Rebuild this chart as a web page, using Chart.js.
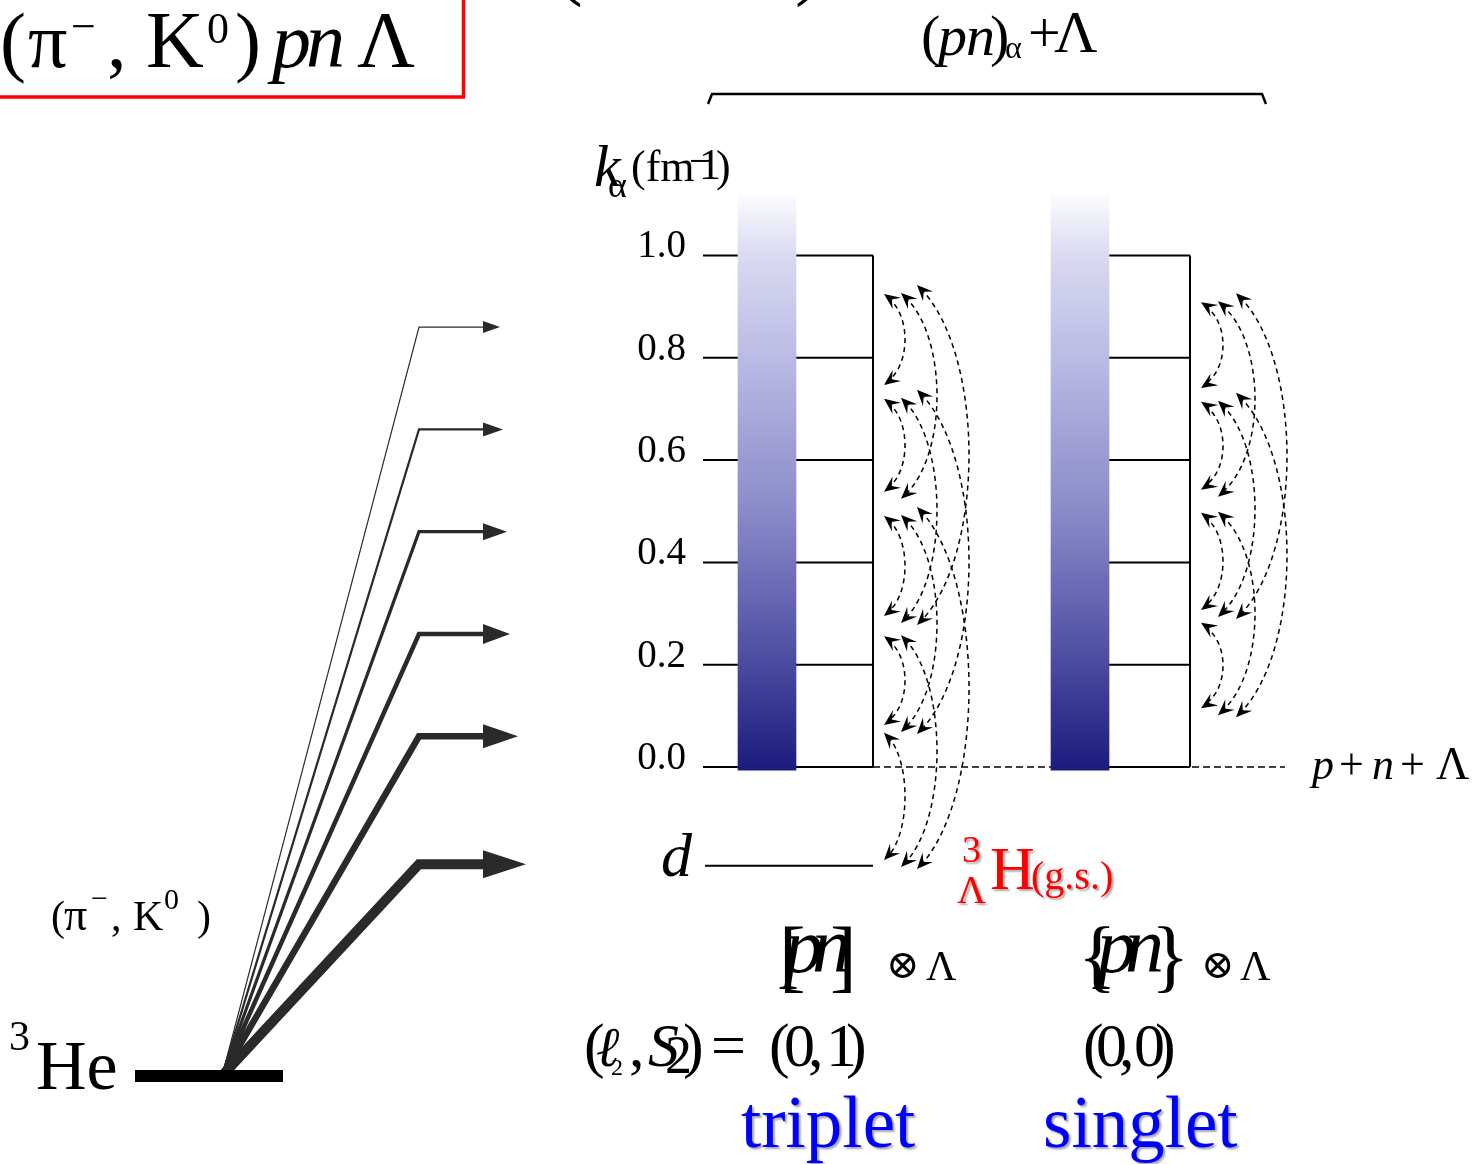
<!DOCTYPE html>
<html>
<head>
<meta charset="utf-8">
<script src="https://cdn.jsdelivr.net/npm/chart.js@4.4.1/dist/chart.umd.min.js"></script>
<style>
  html, body { margin: 0; padding: 0; background: #ffffff; }
  canvas { display: block; }
</style>
</head>
<body>
<canvas id="diagram" width="1476" height="1164"></canvas>
<script>
// ---- momentum axis k_alpha (fm^-1) ----
const kTicks = [0.0, 0.2, 0.4, 0.6, 0.8, 1.0];
const kTickLabels = ['0.0', '0.2', '0.4', '0.6', '0.8', '1.0'];

// bound levels on the same vertical scale
const deuteronK = -0.193;
const helium3K = -0.604;

// continuum bars (triplet, singlet): k range of the shaded column
const barRangeK = [-0.006, 1.128];

// (pi-, K0) excitation arrows: final k of each arrow (last one ends on the deuteron)
const excitationK = [0.86, 0.66, 0.46, 0.26, 0.06, -0.19];

// coupling arrows between discretized states: upper and lower anchor k of each state
const tripletTopK = [0.917, 0.712, 0.483, 0.248, 0.059];
const tripletBottomK = [null, 0.747, 0.538, 0.295, 0.082, -0.182];
const singletTopK = [0.901, 0.706, 0.489, 0.274];
const singletBottomK = [null, 0.741, 0.542, 0.307, 0.115];
const maxCouplingSpan = 3;

// ---- layout (horizontal diagram units) ----
const X = {
  axis: 703, tripletBar: 767, tripletRight: 873,
  singletLeft: 1051, singletBar: 1080, singletRight: 1190,
  thresholdEnd: 1285, dLeft: 705,
  heLeft: 135, heRight: 283, fan: 222, knee: 419, headBase: 483
};
const SERIF = "'Liberation Serif', 'DejaVu Serif', 'Times New Roman', serif";
const INK = '#000000';
const ARROW_INK = '#2a2a2a';
const lineWidths = [1.2, 2.2, 3.2, 4.5, 6.5, 10];
const headLen = [17, 20, 24, 27, 35, 43];
const headHalf = [6, 7, 8.5, 10, 12, 14];

function segment(x0, y0, x1, y1, width, extra) {
  return Object.assign({
    type: 'line',
    data: [{ x: x0, y: y0 }, { x: x1, y: y1 }],
    borderColor: INK,
    borderWidth: width,
    borderCapStyle: 'butt',
    pointRadius: 0,
    order: 3
  }, extra || {});
}

const datasets = [];

// shaded continuum columns
datasets.push({
  type: 'bar',
  data: [
    { x: X.tripletBar, y: barRangeK },
    { x: X.singletBar, y: barRangeK }
  ],
  barThickness: 58,
  grouped: false,
  borderWidth: 0,
  order: 1,
  backgroundColor: (ctx) => {
    const chart = ctx.chart;
    if (!chart.chartArea) return '#8a8ac8';
    const y = chart.scales.y;
    const g = chart.ctx.createLinearGradient(0, y.getPixelForValue(barRangeK[1]), 0, y.getPixelForValue(barRangeK[0]));
    g.addColorStop(0.00, '#ffffff');
    g.addColorStop(0.11, '#dadaf2');
    g.addColorStop(0.33, '#b3b3e1');
    g.addColorStop(0.55, '#8b8bc9');
    g.addColorStop(0.77, '#5656a9');
    g.addColorStop(1.00, '#1b1b7d');
    return g;
  }
});

// level lines of both boxes
kTicks.forEach((k) => {
  datasets.push(segment(X.axis, k, X.tripletRight, k, 2));
  datasets.push(segment(X.singletLeft, k, X.singletRight, k, 2));
});
datasets.push(segment(X.tripletRight, kTicks[0], X.tripletRight, kTicks[kTicks.length - 1], 2));
datasets.push(segment(X.singletRight, kTicks[0], X.singletRight, kTicks[kTicks.length - 1], 2));

// p+n+Lambda threshold
datasets.push(segment(X.tripletRight, kTicks[0], X.thresholdEnd, kTicks[0], 1.4, { borderDash: [7, 4], order: 4 }));

// deuteron level
datasets.push(segment(X.dLeft, deuteronK, X.tripletRight, deuteronK, 2));

// 3He ground state
datasets.push(segment(X.heLeft, helium3K, X.heRight, helium3K, 12, { order: 2 }));

// excitation arrows from 3He
excitationK.forEach((k, i) => {
  datasets.push({
    type: 'line',
    data: [{ x: X.fan, y: helium3K }, { x: X.knee, y: k }, { x: X.headBase + 1, y: k }],
    borderColor: ARROW_INK,
    borderWidth: lineWidths[i],
    borderJoinStyle: 'miter',
    borderCapStyle: 'butt',
    pointRadius: 0,
    order: 2
  });
});

function txt(ctx, s, x, y, size, opts) {
  opts = opts || {};
  ctx.font = (opts.italic ? 'italic ' : '') + size + 'px ' + SERIF;
  ctx.fillStyle = opts.color || INK;
  ctx.textAlign = opts.align || 'left';
  ctx.textBaseline = 'alphabetic';
  ctx.fillText(s, x, y);
  return x + ctx.measureText(s).width;
}

function stealthHead(ctx, tipX, tipY, dx, dy, len, half) {
  const m = Math.hypot(dx, dy);
  const ux = dx / m, uy = dy / m;
  const nx = -uy, ny = ux;
  ctx.beginPath();
  ctx.moveTo(tipX, tipY);
  ctx.lineTo(tipX - len * ux + half * nx, tipY - len * uy + half * ny);
  ctx.lineTo(tipX - 0.6 * len * ux, tipY - 0.6 * len * uy);
  ctx.lineTo(tipX - len * ux - half * nx, tipY - len * uy - half * ny);
  ctx.closePath();
  ctx.fill();
}

// dashed two-headed coupling arcs between states i (upper anchor) and j (lower anchor)
function drawCouplings(ctx, xs, ys, topK, bottomK, rightX, endOff, bulge) {
  const topShift = [0, -1, -9];
  const botShift = [-4, 3, 5];
  for (let i = 0; i < topK.length; i++) {
    for (let s = 1; s <= maxCouplingSpan; s++) {
      const j = i + s;
      if (j >= bottomK.length || bottomK[j] === null) continue;
      const x = xs.getPixelForValue(rightX) + endOff[s - 1];
      const y0 = ys.getPixelForValue(topK[i]) + topShift[s - 1];
      const y1 = ys.getPixelForValue(bottomK[j]) + botShift[s - 1];
      const h = y1 - y0;
      const cx = x + bulge[s - 1] / 0.75;
      const c0y = y0 + 0.2 * h, c1y = y1 - 0.2 * h;
      ctx.save();
      ctx.strokeStyle = INK;
      ctx.lineWidth = 1.5;
      ctx.setLineDash([5, 4]);
      ctx.beginPath();
      ctx.moveTo(x, y0);
      ctx.bezierCurveTo(cx, c0y, cx, c1y, x, y1);
      ctx.stroke();
      ctx.setLineDash([]);
      ctx.fillStyle = INK;
      stealthHead(ctx, x - 4, y0 - 4, x - cx, y0 - c0y, 16, 7);
      stealthHead(ctx, x - 4, y1 + 4, x - cx, y1 - c1y, 16, 7);
      ctx.restore();
    }
  }
}

const diagramPlugin = {
  id: 'diagramAnnotations',
  afterDatasetsDraw(chart) {
    const ctx = chart.ctx;
    const xs = chart.scales.x, ys = chart.scales.y;
    ctx.save();

    // excitation arrowheads
    ctx.fillStyle = ARROW_INK;
    excitationK.forEach((k, i) => {
      const y = ys.getPixelForValue(k);
      const bx = xs.getPixelForValue(X.headBase);
      ctx.beginPath();
      ctx.moveTo(bx, y - headHalf[i]);
      ctx.lineTo(bx + headLen[i], y);
      ctx.lineTo(bx, y + headHalf[i]);
      ctx.closePath();
      ctx.fill();
    });

    // coupling arcs
    drawCouplings(ctx, xs, ys, tripletTopK, tripletBottomK, X.tripletRight, [15, 32, 48], [17, 32, 48]);
    drawCouplings(ctx, xs, ys, singletTopK, singletBottomK, X.singletRight, [15, 32, 50], [18, 33, 47]);

    // axis tick labels
    kTicks.forEach((k, i) => {
      txt(ctx, kTickLabels[i], 686, ys.getPixelForValue(k) + 2, 39, { align: 'right' });
    });

    // axis title k_alpha (fm^-1)
    txt(ctx, 'k', 594, 186, 60, { italic: true });
    txt(ctx, 'α', 608, 197, 36);
    txt(ctx, '(fm', 631, 181, 44);
    txt(ctx, '−', 689, 174, 40);
    txt(ctx, '1', 699, 179, 44);
    txt(ctx, ')', 716, 181, 44);

    // brace over the continuum
    ctx.strokeStyle = INK;
    ctx.lineWidth = 2.5;
    ctx.beginPath();
    ctx.moveTo(708, 104);
    ctx.lineTo(712, 94);
    ctx.lineTo(1262, 94);
    ctx.lineTo(1266, 104);
    ctx.stroke();

    // (pn)_alpha + Lambda
    txt(ctx, '(', 921, 55, 58);
    txt(ctx, 'p', 938, 55, 58, { italic: true });
    txt(ctx, 'n', 966, 55, 58, { italic: true });
    txt(ctx, ')', 990, 55, 58);
    txt(ctx, 'α', 1005, 58, 32);
    txt(ctx, '+', 1028, 52, 58);
    txt(ctx, 'Λ', 1054, 52, 60);

    // partly visible brackets at the top edge
    txt(ctx, '(', 556, -10, 80);
    txt(ctx, ')', 795, -10, 80);

    // reaction title in red frame
    ctx.strokeStyle = '#ff0000';
    ctx.lineWidth = 3.5;
    ctx.strokeRect(-10, -10, 473.5, 107);
    txt(ctx, '(', 0, 67, 78);
    txt(ctx, 'π', 28, 67, 78);
    txt(ctx, '−', 71, 41, 44);
    txt(ctx, ',', 107, 67, 78);
    txt(ctx, 'K', 146, 67, 80);
    txt(ctx, '0', 207, 43, 44);
    txt(ctx, ')', 235, 67, 78);
    txt(ctx, 'p', 272, 67, 78, { italic: true });
    txt(ctx, 'n', 306, 67, 78, { italic: true });
    txt(ctx, 'Λ', 357, 67, 80);

    // 3He and reaction label
    txt(ctx, '3', 9, 1050, 42);
    txt(ctx, 'He', 36, 1089, 70);
    txt(ctx, '(', 51, 930, 42);
    txt(ctx, 'π', 64, 930, 46);
    txt(ctx, '−', 91, 908, 30);
    txt(ctx, ',', 111, 930, 42);
    txt(ctx, 'K', 133, 930, 42);
    txt(ctx, '0', 164, 909, 30);
    txt(ctx, ')', 197, 930, 42);

    // deuteron and threshold labels
    txt(ctx, 'd', 661, 876, 62, { italic: true });
    txt(ctx, 'p', 1312, 779, 44, { italic: true });
    txt(ctx, '+', 1339, 779, 44);
    txt(ctx, 'n', 1372, 779, 44, { italic: true });
    txt(ctx, '+', 1400, 779, 44);
    txt(ctx, 'Λ', 1436, 779, 46);

    // hypertriton ground state
    ctx.save();
    ctx.shadowColor = 'rgba(0,0,0,0.35)';
    ctx.shadowOffsetX = 2;
    ctx.shadowOffsetY = 2;
    ctx.shadowBlur = 2;
    txt(ctx, '3', 962, 862, 38, { color: '#ff0000' });
    txt(ctx, 'Λ', 957, 903, 40, { color: '#ff0000' });
    txt(ctx, 'H', 990, 889, 62, { color: '#ff0000' });
    txt(ctx, '(g.s.)', 1031, 889, 40, { color: '#ff0000' });
    ctx.restore();

    // pn configurations
    txt(ctx, '[', 779, 982, 80);
    txt(ctx, 'p', 784, 972, 78, { italic: true });
    txt(ctx, 'n', 812, 972, 78, { italic: true });
    txt(ctx, ']', 830, 982, 80);
    txt(ctx, '⊗', 886, 978, 40);
    txt(ctx, 'Λ', 926, 980, 42);

    txt(ctx, '{', 1078, 982, 80);
    txt(ctx, 'p', 1097, 972, 78, { italic: true });
    txt(ctx, 'n', 1125, 972, 78, { italic: true });
    txt(ctx, '}', 1151, 982, 80);
    txt(ctx, '⊗', 1201, 978, 40);
    txt(ctx, 'Λ', 1240, 980, 42);

    // quantum numbers
    txt(ctx, '(', 584, 1066, 62);
    txt(ctx, 'ℓ', 596, 1066, 56, { italic: true });
    txt(ctx, '2', 611, 1075, 24);
    txt(ctx, ',', 629, 1066, 62);
    txt(ctx, 'S', 648, 1066, 62, { italic: true });
    txt(ctx, '2', 665, 1073, 54);
    txt(ctx, ')', 683, 1066, 62);
    txt(ctx, '=', 711, 1066, 62);
    txt(ctx, '(', 769, 1066, 62);
    txt(ctx, '0', 784, 1066, 62);
    txt(ctx, ',', 808, 1066, 62);
    txt(ctx, '1', 826, 1066, 62);
    txt(ctx, ')', 846, 1066, 62);

    txt(ctx, '(', 1083, 1066, 62);
    txt(ctx, '0', 1096, 1066, 62);
    txt(ctx, ',', 1119, 1066, 62);
    txt(ctx, '0', 1134, 1066, 62);
    txt(ctx, ')', 1155, 1066, 62);

    // spin labels
    ctx.save();
    ctx.shadowColor = 'rgba(0,0,0,0.35)';
    ctx.shadowOffsetX = 2;
    ctx.shadowOffsetY = 2;
    ctx.shadowBlur = 2;
    txt(ctx, 'triplet', 741, 1147, 73, { color: '#0000ff' });
    txt(ctx, 'singlet', 1043, 1147, 73, { color: '#0000ff' });
    ctx.restore();

    ctx.restore();
  }
};

new Chart(document.getElementById('diagram'), {
  type: 'line',
  data: { datasets: datasets },
  options: {
    responsive: false,
    animation: false,
    events: [],
    layout: { padding: 0 },
    plugins: { legend: { display: false }, tooltip: { enabled: false } },
    elements: { point: { radius: 0 }, line: { tension: 0 } },
    scales: {
      x: { type: 'linear', min: 0, max: 1476, offset: false, grid: { offset: false }, display: false },
      y: { type: 'linear', min: -0.7762, max: 1.4995, display: false }
    }
  },
  plugins: [diagramPlugin]
});
</script>
</body>
</html>
